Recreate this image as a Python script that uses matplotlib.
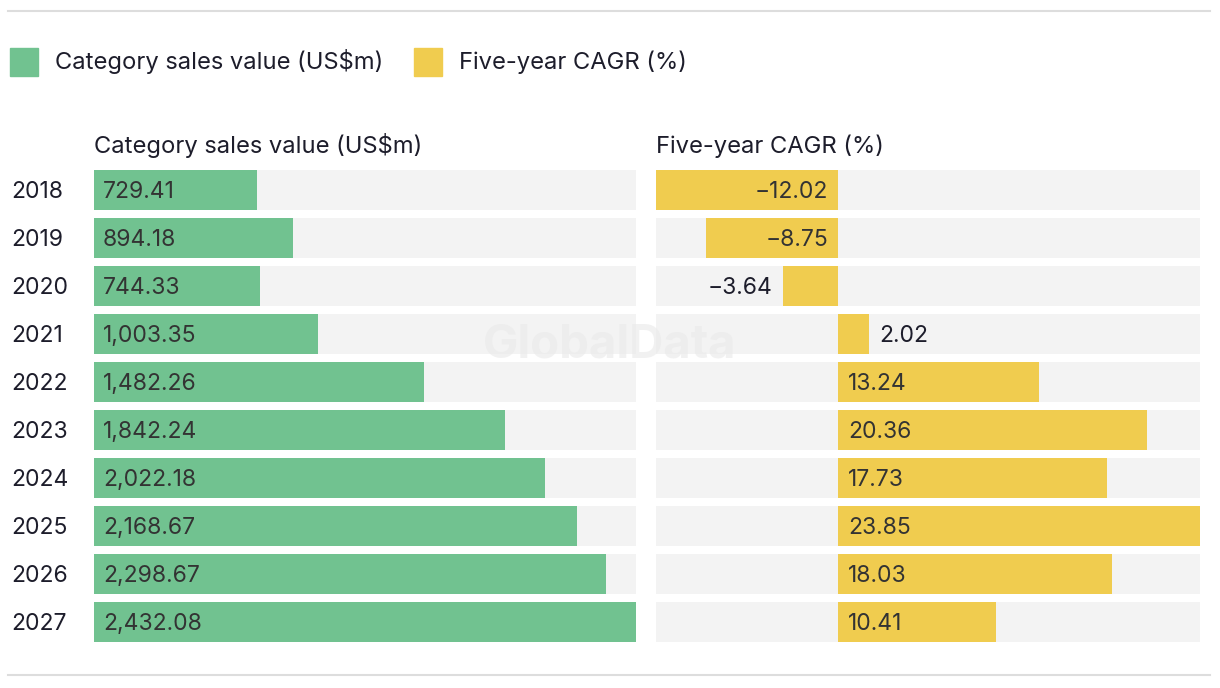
import numpy as np
import matplotlib
matplotlib.use("Agg")
from matplotlib import pyplot as plt
from matplotlib.patches import Rectangle
from matplotlib.lines import Line2D

years = ["2018", "2019", "2020", "2021", "2022", "2023", "2024", "2025", "2026", "2027"]
sales = [729.41, 894.18, 744.33, 1003.35, 1482.26, 1842.24, 2022.18, 2168.67, 2298.67, 2432.08]
cagr = [-12.02, -8.75, -3.64, 2.02, 13.24, 20.36, 17.73, 23.85, 18.03, 10.41]

sales_title = "Category sales value (US$m)"
cagr_title = "Five-year CAGR (%)"

GREEN = "#71c290"
YELLOW = "#f0cc4f"
TRACK = "#f3f3f3"
TEXT = "#1d1d2b"
LABEL = "#333333"

W, H = 1220, 688
plt.rcParams['font.family'] = ['Inter', 'DejaVu Sans']
FS_HEAD = 17.1
FS_NUM = 16.5

fig = plt.figure(figsize=(W / 100, H / 100), dpi=100)


def px_axes(x0, y0, x1, y1):
    # pixel box (top-left origin) -> axes
    return fig.add_axes([x0 / W, 1 - y1 / H, (x1 - x0) / W, (y1 - y0) / H])


def fmt(v):
    return f"{v:,.2f}".replace("-", "\u2212")


# top and bottom rules
fig.add_artist(Line2D([8 / W, 1210 / W], [1 - 11 / H] * 2, color="#dddddd", lw=1.5))
fig.add_artist(Line2D([8 / W, 1210 / W], [1 - 675 / H] * 2, color="#dddddd", lw=1.5))

# legend
for x, col, lab in [(10, GREEN, sales_title), (414, YELLOW, cagr_title)]:
    fig.add_artist(Rectangle((x / W, 1 - 76 / H), 28 / W, 28 / H, color=col,
                             transform=fig.transFigure))
    fig.text((x + 45) / W, 1 - 62 / H, lab, fontsize=FS_HEAD, color=TEXT, va="center")

ypos = np.arange(len(years))
bh = 40 / 48

# left panel
ax1 = px_axes(94, 166, 636, 646)
xmax = max(sales)
ax1.barh(ypos, [xmax] * len(years), height=bh, color=TRACK)
ax1.barh(ypos, sales, height=bh, color=GREEN)
ax1.set_xlim(0, xmax)
ax1.set_ylim(len(years) - 0.5, -0.5)
for y, v in zip(ypos, sales):
    ax1.annotate(fmt(v), (0, y), xytext=(9, -2), textcoords="offset pixels",
                 va="center", ha="left", fontsize=FS_NUM, color=LABEL)
for y, yr in zip(ypos, years):
    ax1.annotate(yr, (0, y), xycoords=("axes fraction", "data"), xytext=(-83, -2),
                 textcoords="offset pixels", va="center", ha="left", fontsize=FS_NUM, color=TEXT)
ax1.set_title(sales_title, loc="left", fontsize=FS_HEAD, color=TEXT, pad=9)

# right panel
ax2 = px_axes(656, 166, 1200, 646)
lo, hi = min(cagr), max(cagr)
ax2.barh(ypos, [hi - lo] * len(years), left=lo, height=bh, color=TRACK)
ax2.barh(ypos, cagr, height=bh, color=YELLOW)
ax2.set_xlim(lo, hi)
ax2.set_ylim(len(years) - 0.5, -0.5)
scale = 544 / (hi - lo)
for y, v in zip(ypos, cagr):
    inside = abs(v) * scale > 75
    if v >= 0:
        x, off, ha = (0, 10, "left") if inside else (v, 10, "left")
    else:
        x, off, ha = (0, -10, "right") if inside else (v, -11, "right")
    ax2.annotate(fmt(v), (x, y), xytext=(off, -2), textcoords="offset pixels",
                 va="center", ha=ha, fontsize=FS_NUM, color=LABEL if inside else TEXT)
ax2.set_title(cagr_title, loc="left", fontsize=FS_HEAD, color=TEXT, pad=9)

for ax in (ax1, ax2):
    ax.axis("off")
    ax.title.set_visible(True)

# watermark
fig.text(610 / W, 1 - 345 / H, "GlobalData", fontsize=34, fontweight="bold",
         color="#e9e9e9", alpha=0.6, ha="center", va="center", zorder=10)

fig.savefig("out.png", dpi=100)
